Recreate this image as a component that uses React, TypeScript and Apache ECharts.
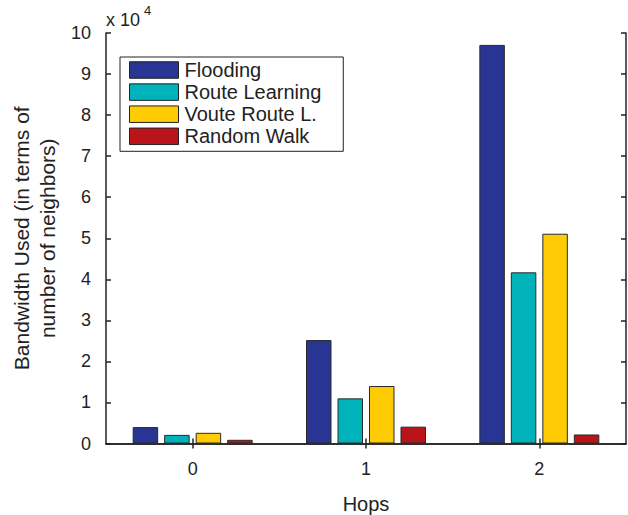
import React, { useEffect, useRef } from "react";
import * as echarts from "echarts";

const categories = ["0", "1", "2"];
const seriesNames = ["Flooding", "Route Learning", "Voute Route L.", "Random Walk"];
const flooding = [4000, 25200, 97100];
const routeLearning = [2100, 11000, 41700];
const vouteRoute = [2600, 14000, 51100];
const randomWalk = [900, 4100, 2200];
const yMin = 0;
const yMax = 100000;
const yInterval = 10000;
const multiplier = 10000;

const colors = ["#283593", "#00B2B9", "#FFCB05", "#BA141B"];
const textColor = "#222";
const axisColor = "#222";
const FONT = "'Liberation Sans', Arial, Helvetica, sans-serif";

export default function App() {
  const ref = useRef<HTMLDivElement>(null);
  useEffect(() => {
    if (!ref.current) return;
    const chart = echarts.init(ref.current, null, { renderer: "svg" });
    const values = [flooding, routeLearning, vouteRoute, randomWalk];
    const series = seriesNames.map((name, i) => ({
      name,
      type: "bar",
      data: values[i],
      barWidth: 25.5,
      barGap: "23.5%",
      itemStyle: { color: colors[i], borderColor: "#2a2a2a", borderWidth: 1 },
    }));
    const axisLineStyle = { color: axisColor, width: 1.5 };
    chart.setOption({
      animation: false,
      textStyle: { fontFamily: FONT },
      grid: {
        left: 106,
        top: 33,
        width: 520,
        height: 410.5,
        containLabel: false,
        outerBoundsMode: "none",
      },
      legend: {
        orient: "vertical",
        left: 120,
        top: 57,
        padding: [3, 22, 5, 9],
        itemWidth: 49,
        itemHeight: 16.5,
        itemGap: 2.1,
        borderColor: "#222",
        borderWidth: 1,
        backgroundColor: "#fff",
        icon: "rect",
        itemStyle: { borderColor: "#222", borderWidth: 1 },
        textStyle: { fontSize: 20, color: textColor, fontFamily: FONT, padding: [0, 0, 0, 1] },
        data: seriesNames,
      },
      xAxis: [
        {
          type: "category",
          data: categories,
          position: "bottom",
          name: "Hops",
          nameLocation: "middle",
          nameGap: 50,
          nameTextStyle: { fontSize: 20, color: textColor, fontFamily: FONT },
          axisLine: { show: true, lineStyle: axisLineStyle },
          axisTick: { show: true, inside: true, length: 5, alignWithLabel: true, lineStyle: axisLineStyle },
          axisLabel: { fontSize: 18, color: textColor, margin: 16, fontFamily: FONT },
          splitLine: { show: false },
        },
        {
          type: "category",
          data: categories,
          position: "top",
          axisLine: { show: true, lineStyle: axisLineStyle },
          axisTick: { show: true, inside: true, length: 5, alignWithLabel: true, lineStyle: axisLineStyle },
          axisLabel: { show: false },
          splitLine: { show: false },
        },
      ],
      yAxis: [
        {
          type: "value",
          min: yMin,
          max: yMax,
          interval: yInterval,
          position: "left",
          name: "Bandwidth Used (in terms of\nnumber of neighbors)",
          nameLocation: "middle",
          nameGap: 45,
          nameTextStyle: { fontSize: 21, color: textColor, lineHeight: 26, fontFamily: FONT },
          axisLine: { show: true, lineStyle: axisLineStyle },
          axisTick: { show: true, inside: true, length: 5, lineStyle: axisLineStyle },
          axisLabel: {
            fontSize: 18,
            color: textColor,
            margin: 15,
            fontFamily: FONT,
            formatter: (v: number) => String(Math.round(v / multiplier)),
          },
          splitLine: { show: false },
        },
        {
          type: "value",
          min: yMin,
          max: yMax,
          interval: yInterval,
          position: "right",
          axisLine: { show: true, lineStyle: axisLineStyle },
          axisTick: { show: true, inside: true, length: 5, lineStyle: axisLineStyle },
          axisLabel: { show: false },
          splitLine: { show: false },
        },
      ],
      graphic: [
        {
          type: "text",
          left: 106,
          top: 11,
          style: { text: "x 10", font: `18px ${FONT}`, fill: textColor },
        },
        {
          type: "text",
          left: 144,
          top: 4,
          style: { text: "4", font: `13px ${FONT}`, fill: textColor },
        },
      ],
      series,
    });
    return () => chart.dispose();
  }, []);
  return (
    <div
      ref={ref}
      style={{ position: "absolute", left: 0, top: 0, width: 628, height: 515, background: "#fff" }}
    />
  );
}
